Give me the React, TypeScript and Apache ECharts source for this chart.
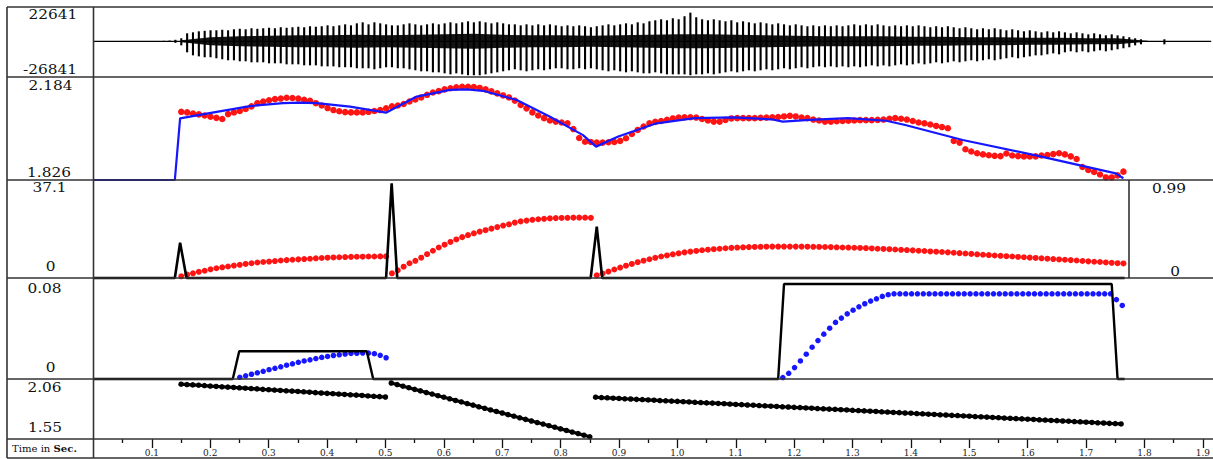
import React, { useEffect, useRef } from 'react';
import * as echarts from 'echarts';

// ---------------- data ----------------
const X_MAX = 1.91;
const STEP = 0.01;

// Panel 1: speech waveform, peak / trough magnitude per 10 ms
const WAVE_T0 = 0.12;
const WAVE_POS = [
  400, 600, 1200, 2400, 6300, 7100, 7900, 8300, 8700, 8700,
  9100, 8700, 9500, 9900, 9500, 10300, 9900, 10300, 10700, 10300,
  11100, 10700, 11100, 11500, 11100, 11900, 11500, 11900, 12600, 11900,
  12600, 13400, 12600, 14200, 15000, 13400, 15000, 14200, 13400, 12600,
  12600, 13400, 14200, 13400, 12600, 13400, 14200, 13400, 14200, 15000,
  14200, 15000, 15800, 15000, 15800, 15000, 14200, 15000, 14200, 13400,
  13400, 12600, 13400, 12600, 13400, 12600, 13400, 12600, 11900, 12600,
  11900, 12600, 11900, 11100, 11900, 12600, 13400, 12600, 13400, 14200,
  13400, 15000, 14200, 15800, 16600, 17400, 16600, 18200, 17400, 19800,
  22641, 19000, 17400, 16600, 17400, 16600, 15800, 16600, 15000, 15800,
  15000, 14200, 15000, 14200, 13400, 14200, 13400, 12600, 13400, 12600,
  11900, 12600, 11900, 12600, 11900, 12600, 11900, 12600, 13400, 12600,
  13400, 12600, 13400, 12600, 11900, 12600, 11900, 12600, 11900, 12600,
  11900, 11100, 11900, 11100, 11900, 11100, 10300, 11100, 10300, 9500,
  10300, 9500, 10300, 9500, 8700, 9500, 8700, 7900, 8700, 7900,
  7100, 7900, 7100, 7900, 7100, 6300, 7100, 6300, 5500, 6300,
  5500, 4700, 5500, 4700, 4000, 3200, 2400, 1600, 400, 200,
  200, 1600,
];
const WAVE_NEG = [
  400, 400, 1200, 3200, 8700, 11100, 11900, 12600, 12600, 13400,
  14200, 15000, 15000, 15800, 15800, 16600, 16600, 16600, 17400, 17400,
  17400, 18200, 18200, 18200, 19000, 19000, 19000, 19800, 19800, 19800,
  20500, 20500, 20500, 21300, 21300, 21300, 22100, 21300, 20500, 20500,
  21300, 21300, 22100, 22900, 23700, 23700, 24500, 24500, 25300, 26100,
  25300, 26100, 26800, 26800, 26841, 26100, 25300, 24500, 23700, 22900,
  22100, 22900, 23700, 22900, 22100, 22900, 22100, 21300, 21300, 22100,
  22100, 21300, 22100, 21300, 22100, 22900, 23700, 22900, 23700, 24500,
  23700, 24500, 25300, 25300, 24500, 25300, 26100, 26100, 26100, 26100,
  26800, 26100, 26100, 25300, 26100, 25300, 24500, 23700, 24500, 23700,
  22900, 23700, 22900, 22100, 22900, 22100, 21300, 22100, 21300, 20500,
  21300, 20500, 19800, 20500, 19800, 20500, 19800, 20500, 19800, 20500,
  19800, 19000, 19800, 19000, 19800, 19000, 18200, 19000, 18200, 17400,
  18200, 17400, 16600, 17400, 16600, 15800, 16600, 15800, 15000, 15800,
  15000, 14200, 15000, 14200, 13400, 12600, 13400, 12600, 11900, 11100,
  11100, 10300, 9500, 10300, 8700, 7900, 8700, 7900, 8700, 7900,
  7100, 7900, 7100, 6300, 5500, 4700, 3200, 2400, 400, 200,
  200, 2400,
];
// dense centre band of the waveform, every 50 ms
const CORE_T0 = 0.15;
const CORE_STEP = 0.05;
const WAVE_CORE = [
  800, 3200, 4000, 4300, 4700, 4700, 5100, 4700, 5100, 5500,
  5900, 5100, 4700, 4700, 4300, 4700, 5100, 5500, 5500, 5100,
  4700, 4300, 4000, 4000, 4000, 3600, 3600, 3200, 3200, 2800,
  2800, 2400, 2400, 400,
];

// Panel 2: red pitch dots (every 10 ms) and blue stylised contour
const PITCH_T0 = 0.15;
const PITCH_DOTS = [
  2.063, 2.061, 2.057, 2.054, 2.050, 2.046, 2.042, 2.038, 2.055, 2.061,
  2.066, 2.073, 2.082, 2.093, 2.099, 2.103, 2.107, 2.109, 2.112, 2.111,
  2.109, 2.105, 2.101, 2.093, 2.085, 2.076, 2.069, 2.065, 2.062, 2.061,
  2.061, 2.061, 2.063, 2.066, 2.069, 2.075, 2.082, 2.085, 2.090, 2.099,
  2.106, 2.113, 2.122, 2.130, 2.135, 2.141, 2.145, 2.148, 2.150, 2.150,
  2.149, 2.146, 2.141, 2.134, 2.127, 2.120, 2.113, 2.102, 2.087, 2.075,
  2.061, 2.050, 2.041, 2.033, 2.029, 2.026, 2.023, 2.003, 1.972, 1.959,
  1.958, 1.956, 1.956, 1.957, 1.958, 1.962, 1.971, 1.986, 2.000, 2.012,
  2.023, 2.028, 2.031, 2.035, 2.040, 2.043, 2.044, 2.044, 2.043, 2.038,
  2.033, 2.029, 2.029, 2.035, 2.040, 2.041, 2.041, 2.041, 2.041, 2.042,
  2.043, 2.044, 2.045, 2.047, 2.049, 2.047, 2.043, 2.041, 2.036, 2.033,
  2.029, 2.029, 2.030, 2.031, 2.032, 2.033, 2.034, 2.034, 2.034, 2.035,
  2.036, 2.039, 2.041, 2.039, 2.036, 2.031, 2.026, 2.023, 2.019, 2.014,
  2.010, 2.006, 1.962, 1.956, 1.933, 1.925, 1.919, 1.915, 1.912, 1.910,
  1.909, 1.918, 1.911, 1.909, 1.908, 1.908, 1.908, 1.911, 1.913, 1.916,
  1.919, 1.915, 1.908, 1.899, 1.871, 1.861, 1.854, 1.845, 1.835, 1.835,
  1.842, 1.855,
];
const PITCH_LINE_T = [
  0, 0.139, 0.148, 0.2105, 0.2674, 0.3238, 0.3529, 0.3814, 0.4383, 0.4998,
  0.5523, 0.6092, 0.6377, 0.6656, 0.7232, 0.7801, 0.8365, 0.8587, 0.8968, 0.9621,
  1.0275, 1.0928, 1.1584, 1.1779, 1.2237, 1.2891, 1.3546, 1.3872, 1.4853, 1.616,
  1.7469, 1.7599,
];
const PITCH_LINE_V = [
  1.826, 1.826, 2.040, 2.063, 2.083, 2.093, 2.095, 2.093, 2.081, 2.060,
  2.116, 2.139, 2.141, 2.136, 2.104, 2.046, 1.982, 1.942, 1.977, 2.023,
  2.041, 2.044, 2.037, 2.029, 2.035, 2.041, 2.032, 2.017, 1.965, 1.909,
  1.849, 1.832,
];

// Panel 3: black spikes (left axis) and red dots (right axis)
const P3_LINE_T = [0, 0.139, 0.148, 0.159, 0.5, 0.5095, 0.519, 0.8496, 0.86, 0.8693, 1.762];
const P3_LINE_V = [0, 0, 13.8, 0, 0, 37.1, 0, 0, 20.1, 0, 0];
const P3_DOTS_A_T0 = 0.15;
const P3_DOTS_A = [
  0.018, 0.036, 0.049, 0.065, 0.076, 0.091, 0.102, 0.112, 0.120, 0.130,
  0.138, 0.147, 0.154, 0.162, 0.167, 0.172, 0.177, 0.183, 0.187, 0.191,
  0.195, 0.198, 0.201, 0.206, 0.209, 0.212, 0.215, 0.217, 0.219, 0.221,
  0.222, 0.223, 0.225, 0.225, 0.226, 0.226,
];
const P3_DOTS_B_T0 = 0.51;
const P3_DOTS_B = [
  0.049, 0.081, 0.118, 0.154, 0.180, 0.212, 0.249, 0.285, 0.319, 0.348,
  0.377, 0.403, 0.427, 0.448, 0.467, 0.485, 0.500, 0.516, 0.532, 0.548,
  0.561, 0.579, 0.592, 0.600, 0.608, 0.614, 0.619, 0.623, 0.626, 0.628,
  0.629, 0.631, 0.631, 0.631, 0.629,
];
const P3_DOTS_C_T0 = 0.86;
const P3_DOTS_C = [
  0.028, 0.047, 0.067, 0.089, 0.109, 0.129, 0.147, 0.165, 0.181, 0.196,
  0.211, 0.225, 0.236, 0.248, 0.258, 0.268, 0.276, 0.283, 0.290, 0.296,
  0.301, 0.306, 0.311, 0.315, 0.318, 0.321, 0.323, 0.325, 0.326, 0.327,
  0.328, 0.328, 0.328, 0.328, 0.328, 0.328, 0.327, 0.326, 0.325, 0.324,
  0.323, 0.321, 0.319, 0.318, 0.316, 0.314, 0.312, 0.309, 0.306, 0.304,
  0.301, 0.298, 0.295, 0.292, 0.289, 0.285, 0.282, 0.278, 0.275, 0.272,
  0.268, 0.264, 0.260, 0.256, 0.252, 0.248, 0.243, 0.239, 0.235, 0.232,
  0.228, 0.225, 0.220, 0.217, 0.213, 0.210, 0.206, 0.202, 0.198, 0.194,
  0.191, 0.187, 0.183, 0.178, 0.174, 0.170, 0.167, 0.163, 0.159, 0.155,
  0.152,
];

// Panel 4: black plateaus and blue dots
const P4_LINE_T = [0, 0.238, 0.249, 0.467, 0.478, 1.17, 1.18, 1.74, 1.75, 1.762];
const P4_LINE_V = [0, 0, 0.0234, 0.0234, 0, 0, 0.08, 0.08, 0, 0];
const P4_DOTS_A_T0 = 0.25;
const P4_DOTS_A = [
  0.0014, 0.0027, 0.0040, 0.0052, 0.0065, 0.0078, 0.0090, 0.0103, 0.0116, 0.0128,
  0.0141, 0.0152, 0.0162, 0.0172, 0.0182, 0.0190, 0.0198, 0.0204, 0.0210, 0.0215,
  0.0217, 0.0219, 0.0219, 0.0213, 0.0200, 0.0179,
];
const P4_DOTS_B_T0 = 1.178;
const P4_DOTS_B = [
  0.0012, 0.0048, 0.0096, 0.0152, 0.0209, 0.0268, 0.0324, 0.0378, 0.0428, 0.0477,
  0.0513, 0.0549, 0.0580, 0.0608, 0.0634, 0.0657, 0.0676, 0.0696, 0.0710, 0.0718,
  0.0718, 0.0718, 0.0718, 0.0718, 0.0718, 0.0718, 0.0718, 0.0718, 0.0718, 0.0718,
  0.0718, 0.0718, 0.0718, 0.0718, 0.0718, 0.0718, 0.0718, 0.0718, 0.0718, 0.0718,
  0.0718, 0.0718, 0.0718, 0.0718, 0.0718, 0.0718, 0.0718, 0.0718, 0.0718, 0.0718,
  0.0718, 0.0718, 0.0718, 0.0718, 0.0718, 0.0718, 0.0718, 0.0669, 0.0620,
];

// Panel 5: three black dotted declining segments
const P5_A_T0 = 0.15;
const P5_A = [
  2.016, 2.013, 2.010, 2.007, 2.004, 2.000, 1.997, 1.994, 1.991, 1.988,
  1.985, 1.982, 1.979, 1.976, 1.972, 1.969, 1.966, 1.963, 1.960, 1.957,
  1.954, 1.951, 1.948, 1.944, 1.941, 1.938, 1.935, 1.932, 1.929, 1.926,
  1.923, 1.920, 1.916, 1.913, 1.910, 1.907,
];
const P5_B_T0 = 0.51;
const P5_B = [
  2.026, 2.013, 1.999, 1.986, 1.972, 1.959, 1.945, 1.932, 1.918, 1.905,
  1.892, 1.878, 1.865, 1.851, 1.838, 1.824, 1.811, 1.797, 1.784, 1.771,
  1.757, 1.744, 1.730, 1.717, 1.703, 1.690, 1.677, 1.663, 1.650, 1.636,
  1.623, 1.609, 1.596, 1.582, 1.569,
];
const P5_C_T0 = 0.86;
const P5_C = [
  1.905, 1.902, 1.900, 1.897, 1.895, 1.892, 1.890, 1.887, 1.885, 1.882,
  1.880, 1.877, 1.875, 1.872, 1.870, 1.867, 1.865, 1.862, 1.860, 1.857,
  1.855, 1.852, 1.850, 1.847, 1.844, 1.842, 1.839, 1.837, 1.834, 1.832,
  1.829, 1.827, 1.824, 1.822, 1.819, 1.817, 1.814, 1.812, 1.809, 1.807,
  1.804, 1.802, 1.799, 1.797, 1.794, 1.792, 1.789, 1.786, 1.784, 1.781,
  1.779, 1.776, 1.774, 1.771, 1.769, 1.766, 1.764, 1.761, 1.759, 1.756,
  1.754, 1.751, 1.749, 1.746, 1.744, 1.741, 1.739, 1.736, 1.733, 1.731,
  1.728, 1.726, 1.723, 1.721, 1.718, 1.716, 1.713, 1.711, 1.708, 1.706,
  1.703, 1.701, 1.698, 1.696, 1.693, 1.691, 1.688, 1.686, 1.683, 1.681,
  1.678,
];

// axis ranges
const WAVE_RANGE = [-28200, 27100];
const PITCH_RANGE = [1.826, 2.184];
const P3_LEFT_RANGE = [0, 38.4];
const P3_RIGHT_RANGE = [0, 1.0245];
const P4_RANGE = [0, 0.0851];
const P5_RANGE = [1.55, 2.06];

// tick labels
const TIME_TICKS = [0.1, 0.2, 0.3, 0.4, 0.5, 0.6, 0.7, 0.8, 0.9, 1.0, 1.1, 1.2, 1.3, 1.4, 1.5, 1.6, 1.7, 1.8, 1.9];
const TIME_MINOR = [0.05, 0.15, 0.25, 0.35, 0.45, 0.55, 0.65, 0.75, 0.85, 0.95, 1.05, 1.15, 1.25, 1.35, 1.45, 1.55, 1.65, 1.75, 1.85];
const LEFT_LABELS = ['22641', '-26841', '2.184', '1.826', '37.1', '0', '0.08', '0', '2.06', '1.55'];
const RIGHT_LABELS = ['0.99', '0'];

// ---------------- layout ----------------
const PLOT_L = 93.5;
const PLOT_W = 1117.7;
const LEFT_LABEL_POS = [
  [53, 14], [50, 69], [50.5, 85], [49, 172], [49.5, 187.5],
  [50.5, 266], [44.5, 288], [50.5, 367], [44.5, 387.5], [45, 427],
];
const RIGHT_LABEL_POS = [[1169, 188], [1175, 271]];
const RED = '#ff1414';
const BLUE = '#1616ff';
const FONT = 'DejaVu Serif';

const seq = (t0: number, vals: number[]) =>
  vals.map((v, i) => [Math.round((t0 + i * STEP) * 10000) / 10000, v]);
const zip = (ts: number[], vs: number[]) => ts.map((t, i) => [t, vs[i]]);

export default function App() {
  const ref = useRef<HTMLDivElement>(null);

  useEffect(() => {
    document.body.style.margin = '0';
    if (!ref.current) return;
    const chart = echarts.init(ref.current, undefined, { renderer: 'svg' });

    const gridsDef = [
      { top: 7, height: 70 },
      { top: 77, height: 103 },
      { top: 180, height: 98 },
      { top: 278, height: 101 },
      { top: 379, height: 60 },
    ];
    const grid = gridsDef.map((g) => ({ left: PLOT_L, width: PLOT_W, top: g.top, height: g.height, containLabel: false }));

    const hiddenX = (i: number) => ({ type: 'value', gridIndex: i, min: 0, max: X_MAX, show: false });
    const xAxis: any[] = [
      hiddenX(0), hiddenX(1), hiddenX(2), hiddenX(3),
      {
        type: 'value', gridIndex: 4, min: 0, max: X_MAX, position: 'bottom',
        axisLine: { show: false }, splitLine: { show: false },
        axisTick: { show: true, length: 9, lineStyle: { color: '#111', width: 1.3 }, customValues: TIME_TICKS },
        axisLabel: {
          show: true, customValues: TIME_TICKS, formatter: (v: number) => v.toFixed(1),
          fontSize: 9, fontFamily: FONT, color: '#222', margin: 9,
        },
      },
      {
        type: 'value', gridIndex: 4, min: 0, max: X_MAX, position: 'bottom',
        axisLine: { show: false }, splitLine: { show: false },
        axisTick: { show: true, length: 4, lineStyle: { color: '#111', width: 1.3 }, customValues: TIME_MINOR },
        axisLabel: { show: false },
      },
    ];
    const yAxis: any[] = [
      { type: 'value', gridIndex: 0, min: WAVE_RANGE[0], max: WAVE_RANGE[1], show: false },
      { type: 'value', gridIndex: 1, min: PITCH_RANGE[0], max: PITCH_RANGE[1], show: false },
      { type: 'value', gridIndex: 2, min: P3_LEFT_RANGE[0], max: P3_LEFT_RANGE[1], show: false },
      { type: 'value', gridIndex: 2, min: P3_RIGHT_RANGE[0], max: P3_RIGHT_RANGE[1], show: false, position: 'right' },
      { type: 'value', gridIndex: 3, min: P4_RANGE[0], max: P4_RANGE[1], show: false },
      { type: 'value', gridIndex: 4, min: P5_RANGE[0], max: P5_RANGE[1], show: false },
    ];

    const waveData = WAVE_POS.map((p, i) => [Math.round((WAVE_T0 + i * STEP) * 1000) / 1000, p, WAVE_NEG[i]]);
    const coreData = WAVE_CORE.map((c, i) => [Math.round((CORE_T0 + i * CORE_STEP) * 1000) / 1000, c]);

    const p5Series = [seq(P5_A_T0, P5_A), seq(P5_B_T0, P5_B), seq(P5_C_T0, P5_C)].map((d) => ({
      type: 'line', xAxisIndex: 4, yAxisIndex: 5, data: d, silent: true, clip: false,
      symbol: 'circle', symbolSize: 5.5, showSymbol: true,
      itemStyle: { color: '#000' }, lineStyle: { color: '#000', width: 3.2 },
    }));

    const series: any[] = [
      {
        type: 'line', xAxisIndex: 0, yAxisIndex: 0, data: [[0, 0], [X_MAX, 0]], silent: true,
        showSymbol: false, lineStyle: { color: '#000', width: 1.3 },
      },
      {
        type: 'custom', xAxisIndex: 0, yAxisIndex: 0, data: coreData, silent: true,
        renderItem: (params: any, api: any) => {
          if (params.dataIndex !== 0) return { type: 'group', children: [] };
          const top = coreData.map((d) => api.coord([d[0], d[1]]));
          const bottom = coreData.map((d) => api.coord([d[0], -d[1]])).reverse();
          return { type: 'polygon', shape: { points: top.concat(bottom) }, style: { fill: '#000', opacity: 0.92 } };
        },
      },
      {
        type: 'custom', xAxisIndex: 0, yAxisIndex: 0, data: waveData, silent: true,
        renderItem: (params: any, api: any) => {
          const t = api.value(0);
          const a = api.coord([t, api.value(1)]);
          const b = api.coord([t, -api.value(2)]);
          return {
            type: 'line', shape: { x1: a[0], y1: a[1], x2: b[0], y2: b[1] },
            style: { stroke: '#000', lineWidth: 2.1 },
          };
        },
      },
      {
        type: 'scatter', xAxisIndex: 1, yAxisIndex: 1, data: seq(PITCH_T0, PITCH_DOTS), silent: true,
        symbolSize: 6.5, itemStyle: { color: RED, opacity: 1 },
      },
      {
        type: 'line', xAxisIndex: 1, yAxisIndex: 1, data: zip(PITCH_LINE_T, PITCH_LINE_V), silent: true,
        showSymbol: false, clip: false, lineStyle: { color: BLUE, width: 2.2 },
      },
      {
        type: 'scatter', xAxisIndex: 2, yAxisIndex: 3,
        data: [...seq(P3_DOTS_A_T0, P3_DOTS_A), ...seq(P3_DOTS_B_T0, P3_DOTS_B), ...seq(P3_DOTS_C_T0, P3_DOTS_C)],
        silent: true, symbolSize: 6, itemStyle: { color: RED, opacity: 1 },
      },
      {
        type: 'line', xAxisIndex: 2, yAxisIndex: 2, data: zip(P3_LINE_T, P3_LINE_V), silent: true,
        showSymbol: false, clip: false, lineStyle: { color: '#000', width: 2.6 },
      },
      {
        type: 'line', xAxisIndex: 3, yAxisIndex: 4, data: zip(P4_LINE_T, P4_LINE_V), silent: true,
        showSymbol: false, clip: false, lineStyle: { color: '#000', width: 2.4 },
      },
      {
        type: 'scatter', xAxisIndex: 3, yAxisIndex: 4,
        data: [...seq(P4_DOTS_A_T0, P4_DOTS_A), ...seq(P4_DOTS_B_T0, P4_DOTS_B)],
        silent: true, symbolSize: 5.5, itemStyle: { color: BLUE, opacity: 1 },
      },
      ...p5Series,
    ];

    const borderLines = [
      [7, 7, 1213, 7], [7, 77, 1213, 77], [7, 180, 1213, 180], [7, 278, 1213, 278],
      [7, 379, 1213, 379], [7, 439, 1213, 439], [7, 458, 1213, 458],
      [7, 7, 7, 458], [PLOT_L, 7, PLOT_L, 458], [1129, 180, 1129, 278],
    ];
    const graphic: any[] = [
      ...borderLines.map((l) => ({
        type: 'line', silent: true, z: 50,
        shape: { x1: l[0], y1: l[1], x2: l[2], y2: l[3] },
        style: { stroke: '#333', lineWidth: 1.6 },
      })),
      ...LEFT_LABELS.map((txt, i) => ({
        type: 'text', silent: true, z: 60, x: LEFT_LABEL_POS[i][0], y: LEFT_LABEL_POS[i][1], scaleX: 1.18,
        style: { text: txt, fontSize: 13, fontFamily: FONT, fill: '#111', textAlign: 'center', textVerticalAlign: 'middle' },
      })),
      ...RIGHT_LABELS.map((txt, i) => ({
        type: 'text', silent: true, z: 60, x: RIGHT_LABEL_POS[i][0], y: RIGHT_LABEL_POS[i][1], scaleX: 1.18,
        style: { text: txt, fontSize: 13, fontFamily: FONT, fill: '#111', textAlign: 'center', textVerticalAlign: 'middle' },
      })),
      {
        type: 'text', silent: true, z: 60, x: 12, y: 449, scaleX: 1.12,
        style: {
          text: '{a|Time in }{b|Sec.}', textAlign: 'left', textVerticalAlign: 'middle',
          rich: {
            a: { fontSize: 9, fontFamily: FONT, fill: '#111', color: '#111' },
            b: { fontSize: 9, fontFamily: FONT, fontWeight: 'bold', fill: '#111', color: '#111' },
          },
        },
      },
    ];

    chart.setOption({
      animation: false,
      backgroundColor: '#fff',
      grid, xAxis, yAxis, series, graphic,
    });

    return () => chart.dispose();
  }, []);

  return <div ref={ref} style={{ width: 1213, height: 459 }} />;
}
